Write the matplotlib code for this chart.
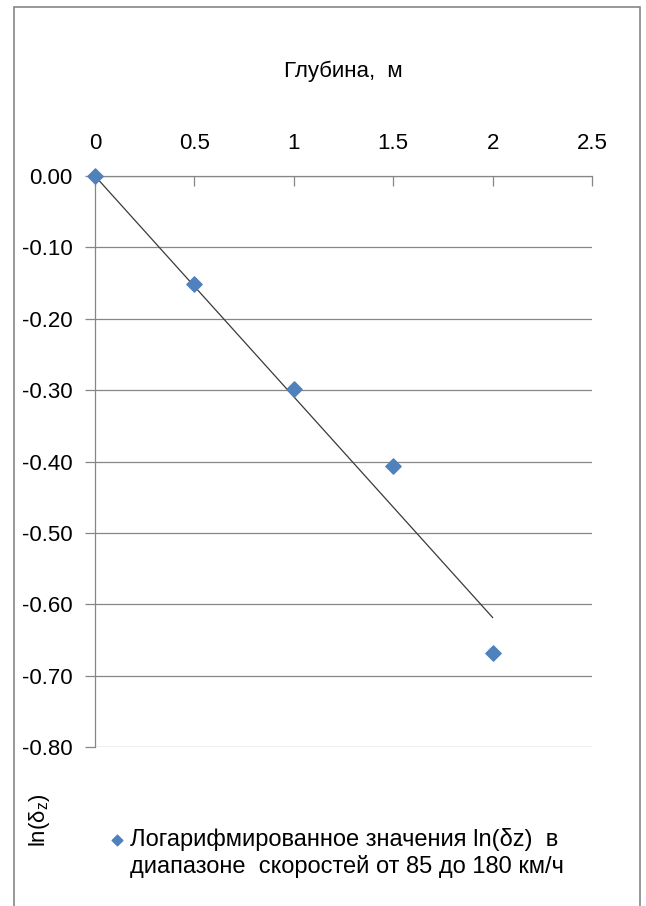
import matplotlib
matplotlib.use('Agg')
import matplotlib.pyplot as plt
from matplotlib.patches import Rectangle
from matplotlib.ticker import FormatStrFormatter
import numpy as np

depth = [0.0, 0.5, 1.0, 1.5, 2.0]
ln_dz = [0.0, -0.151, -0.299, -0.406, -0.668]
x_ticks = [0, 0.5, 1, 1.5, 2, 2.5]
x_tick_labels = ['0', '0.5', '1', '1.5', '2', '2.5']
y_ticks = [0.0, -0.1, -0.2, -0.3, -0.4, -0.5, -0.6, -0.7, -0.8]
x_title = 'Глубина,  м'
y_title = r'$\mathregular{ln(\delta_z)}$'
series_label = 'Логарифмированное значения ln(δz)  в\nдиапазоне  скоростей от 85 до 180 км/ч'

plt.rcParams['font.family'] = ['Liberation Sans Narrow', 'Liberation Sans', 'DejaVu Sans']
plt.rcParams['mathtext.fontset'] = 'custom'
plt.rcParams['mathtext.rm'] = 'Liberation Sans'
plt.rcParams['mathtext.it'] = 'Liberation Sans'

grey = '#868686'
blue = '#4F81BD'

fig = plt.figure(figsize=(6.46, 9.06), dpi=100)
ax = fig.add_axes([0.1471, 0.1755, 0.7693, 0.6302])

# trend line through the origin (least squares)
x = np.array(depth)
y = np.array(ln_dz)
slope = (x * y).sum() / (x * x).sum()
ax.plot([0, x.max()], [0, slope * x.max()], color='#3a3a3a', lw=0.9, zorder=3)

ax.scatter(depth, ln_dz, marker='D', s=60, color=blue, zorder=4, clip_on=False,
           label=series_label)

ax.set_xlim(0, 2.5)
ax.set_ylim(-0.8, 0)
ax.set_xticks(x_ticks)
ax.set_xticklabels(x_tick_labels)
ax.set_yticks(y_ticks)
ax.yaxis.set_major_formatter(FormatStrFormatter('%.2f'))

ax.xaxis.tick_top()
ax.xaxis.set_label_position('top')
ax.tick_params(axis='x', direction='in', length=7, width=0.9, color=grey,
               labelsize=16, pad=16)
ax.tick_params(axis='y', direction='out', length=7, width=0.9, color=grey,
               labelsize=16, pad=9)
ax.set_xlabel(x_title, fontsize=16, labelpad=40)

ax.grid(axis='y', color=grey, lw=0.9)
ax.set_axisbelow(True)
for side in ['bottom', 'right']:
    ax.spines[side].set_visible(False)
for side in ['top', 'left']:
    ax.spines[side].set_color(grey)
    ax.spines[side].set_linewidth(0.9)

fig.text(40 / 646, 1 - 820 / 906, y_title, rotation=90, fontsize=16,
         ha='center', va='center')

fig.legend(loc='upper left', bbox_to_anchor=(111 / 646, 1 - 828 / 906),
           frameon=False, fontsize=17, handlelength=0.5, handletextpad=0.3,
           borderpad=0, borderaxespad=0, markerscale=0.7, labelspacing=0.2,
           scatteryoffsets=[1.3])

fig.add_artist(Rectangle((14 / 646, -0.01), 626 / 646, 1 - 7 / 906 + 0.01,
                         transform=fig.transFigure, fill=False,
                         edgecolor=grey, lw=1.2))

fig.savefig('out.png', dpi=100)
